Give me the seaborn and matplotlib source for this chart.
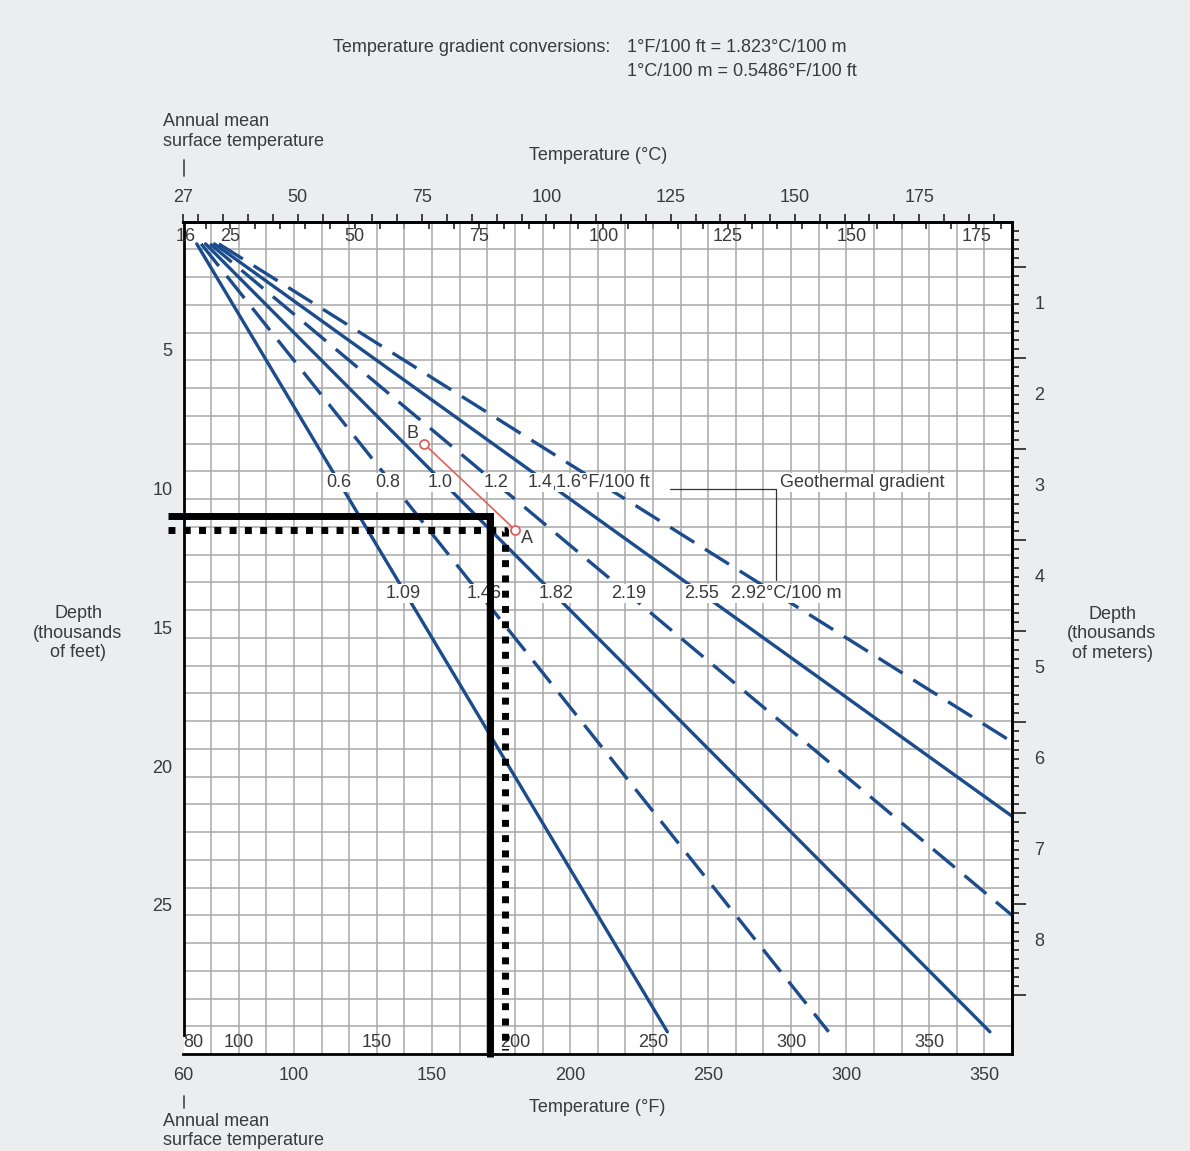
import numpy as np
import pandas as pd
import matplotlib
matplotlib.use("Agg")
import matplotlib.pyplot as plt
import seaborn as sns
from matplotlib.lines import Line2D
from matplotlib.ticker import FixedLocator, FuncFormatter, NullFormatter

# ---- geothermal gradient lines -------------------------------------------
gradients_f = [0.6, 0.8, 1.0, 1.2, 1.4, 1.6]            # degF per 100 ft
labels_f = ["0.6", "0.8", "1.0", "1.2", "1.4", "1.6°F/100 ft"]
labels_c = ["1.09", "1.46", "1.82", "2.19", "2.55", "2.92°C/100 m"]
line_styles = ["solid", "dashed", "solid", "dashed", "solid", "dashed"]
surface_temp_f = 60          # annual mean surface temperature, degF
depth_start = 0.8            # thousands of feet
depth_end = 29.2
temp_max_f = 360

# ---- worked example ---------------------------------------------------------
point_names = ["B", "A"]
point_temp_f = [147, 180]
point_depth = [8.0, 11.1]

# reading lines (thousands of feet, degF)
solid_read = (10.6, 171.0)
dotted_read = (11.1, 176.4)

# ---- scales -----------------------------------------------------------------
depth_ft_ticks = [5, 10, 15, 20, 25]
depth_m_ticks = [1, 2, 3, 4, 5, 6, 7, 8]
temp_f_outer = [60, 100, 150, 200, 250, 300, 350]
temp_f_inner = [80, 100, 150, 200, 250, 300, 350]       # 80 degF surface
temp_c_outer = [27, 50, 75, 100, 125, 150, 175]         # 27 degC surface
temp_c_inner = [16, 25, 50, 75, 100, 125, 150, 175]

W, H = 1190, 1151
BLUE = "#1d4c8c"
TXT = "#3a3a3a"
GRID = "#a8a8a8"

sns.set_theme(style="white")
plt.rcParams["font.family"] = ["Liberation Sans", "DejaVu Sans"]
plt.rcParams["text.color"] = TXT
FS = 13

fig = plt.figure(figsize=(W / 100, H / 100), dpi=100, facecolor="#ebedef")


def fx(px):
    return px / W


def fy(py):
    return 1 - py / H


ax = fig.add_axes([fx(183.5), fy(1054), (1012 - 183.5) / W, (1054 - 221.7) / H])
ax.set_facecolor("white")
ax.set_xlim(60, 360)
ax.set_ylim(30, 0)

# grid
ax.vlines(np.arange(70, 360, 10), 0, 30, color=GRID, lw=1.1, zorder=0.5)
ax.hlines(np.arange(1, 30, 1), 60, 360, color=GRID, lw=1.1, zorder=0.5)

# gradient lines
rows = []
for g, lab, st in zip(gradients_f, labels_f, line_styles):
    d_end = min(depth_end, (temp_max_f - surface_temp_f) / (10 * g))
    for d in (depth_start, d_end):
        rows.append({"gradient": lab, "style": st, "depth": d,
                     "temp": surface_temp_f + 10 * g * d})
df = pd.DataFrame(rows)
sns.lineplot(data=df, x="temp", y="depth", hue="gradient", style="style",
             palette=[BLUE] * len(gradients_f),
             dashes={"solid": "", "dashed": (8.5, 3.8)},
             lw=2.4, estimator=None, sort=False, legend=False, ax=ax, zorder=2)
ax.set_xlabel("")
ax.set_ylabel("")

# gradient labels in two rows, nudged sideways to sit clear of each other
row_f, row_c = 9.4, 13.4
shift_f = [0.0, -1.4, -0.9, 0.4, -2.4, 1.6]
shift_c = [-0.7, 1.5, 0.9, 0.5, 0.0, 3.7]
box = dict(facecolor="white", edgecolor="none", pad=1.0)
for g, lf, lc, sf, sc in zip(gradients_f, labels_f, labels_c, shift_f, shift_c):
    ax.text(surface_temp_f + 10 * g * row_f + sf, row_f, lf, ha="center", va="center",
            fontsize=FS, color=TXT, bbox=box, zorder=3)
    ax.text(surface_temp_f + 10 * g * row_c + sc, row_c, lc, ha="center", va="center",
            fontsize=FS, color=TXT, bbox=box, zorder=3)

# "Geothermal gradient" callout
x_top = surface_temp_f + 10 * gradients_f[-1] * row_c
ax.plot([236, x_top, x_top], [9.65, 9.65, 12.9], color="#333333", lw=0.9, zorder=3)
ax.text(x_top + 1.6, row_f, "Geothermal gradient", ha="left", va="center",
        fontsize=FS, color=TXT, bbox=box, zorder=3)

# worked example B -> A
ax.plot(point_temp_f, point_depth, color="#e0605a", lw=1.2, marker="o", ms=6.5,
        mfc="white", mec="#e0605a", mew=1.3, zorder=4)
ax.text(point_temp_f[0] - 3.9, point_depth[0] - 0.37, point_names[0], ha="center",
        va="center", fontsize=FS, color=TXT, zorder=4)
ax.text(point_temp_f[1] + 4.3, point_depth[1] + 0.32, point_names[1], ha="center",
        va="center", fontsize=FS, color=TXT, zorder=4)

# heavy reading lines
x_left = 54.4
ax.plot([x_left, solid_read[1], solid_read[1]], [solid_read[0], solid_read[0], 30.1],
        color="black", lw=5, solid_joinstyle="miter", solid_capstyle="butt",
        clip_on=False, zorder=6)
ax.plot([x_left, dotted_read[1], dotted_read[1]], [dotted_read[0], dotted_read[0], 29.85],
        color="black", lw=5, dashes=(1.0, 1.2), dash_capstyle="butt",
        clip_on=False, zorder=6)

# spines
for s in ax.spines.values():
    s.set_color("black")
    s.set_linewidth(2)
ax.spines["left"].set_bounds(0, 29.3)

# bottom outer degF scale
ax.set_xticks(temp_f_outer)
ax.set_xticklabels([str(v) for v in temp_f_outer])
ax.tick_params(axis="x", bottom=True, top=False, length=0, pad=9,
               labelsize=FS, labelcolor=TXT)

# bottom inner degF scale (80 degF surface)
for t in temp_f_inner:
    ax.text(t - 20, 29.57, str(t), ha="left" if t == temp_f_inner[0] else "center",
            va="center", fontsize=FS, color=TXT, zorder=3)

# left depth scale (feet)
ax.set_yticks(depth_ft_ticks)
ax.set_yticklabels([str(v) for v in depth_ft_ticks])
ax.tick_params(axis="y", left=True, right=False, length=0, pad=8,
               labelsize=FS, labelcolor=TXT)

# top outer degC scale (27 degC surface)
top_out = ax.secondary_xaxis("top", functions=(lambda f: 27 + (f - 60) / 1.8,
                                               lambda c: 60 + (c - 27) * 1.8))
top_out.set_xticks(temp_c_outer)
top_out.set_xticklabels([str(v) for v in temp_c_outer])
top_out.xaxis.set_minor_locator(FixedLocator(np.arange(30, 195, 5)))
top_out.tick_params(which="both", direction="out", length=6, width=1.2,
                    color="#222222", pad=5, labelsize=FS, labelcolor=TXT)
top_out.spines["top"].set_linewidth(2)

# top inner degC scale (true conversion)
top_in = ax.secondary_xaxis("top", functions=(lambda f: (f - 32) / 1.8,
                                              lambda c: c * 1.8 + 32))
top_in.xaxis.set_major_locator(FixedLocator(np.arange(20, 185, 5)))
top_in.xaxis.set_major_formatter(NullFormatter())
top_in.tick_params(direction="in", length=5, width=1.2, color="#222222")
top_in.spines["top"].set_linewidth(2)
for c in temp_c_inner:
    ax.text(c * 1.8 + 32, 0.52, str(c), ha="center", va="center",
            fontsize=FS, color=TXT, zorder=3)

# right depth scale (meters)
right = ax.secondary_yaxis("right", functions=(lambda d: d * 0.3048,
                                               lambda m: m / 0.3048))
right.yaxis.set_major_locator(FixedLocator(np.arange(0.5, 9.0, 1.0)))
right.yaxis.set_major_formatter(NullFormatter())
right.yaxis.set_minor_locator(FixedLocator(np.round(np.arange(0.1, 8.55, 0.1), 1)))
right.yaxis.set_minor_formatter(FuncFormatter(
    lambda v, p: str(int(round(v))) if abs(v - round(v)) < 1e-6 and int(round(v)) in depth_m_ticks else ""))
right.tick_params(which="major", direction="out", length=10, width=1.2, color="#222222")
right.tick_params(which="minor", direction="out", length=5, width=1.2, color="#222222",
                  pad=11, labelsize=FS, labelcolor=TXT)
right.spines["right"].set_linewidth(2)

fig.canvas.draw()
for lab in right.yaxis.get_minorticklabels():
    lab.set_va("bottom")
for lab in ax.get_yticklabels():
    lab.set_va("bottom")

# titles and side labels
fig.text(fx(333), fy(47), "Temperature gradient conversions:", ha="left", va="center", fontsize=FS)
fig.text(fx(627), fy(47), "1°F/100 ft = 1.823°C/100 m", ha="left", va="center", fontsize=FS)
fig.text(fx(627), fy(71), "1°C/100 m = 0.5486°F/100 ft", ha="left", va="center", fontsize=FS)
fig.text(fx(598), fy(155), "Temperature (°C)", ha="center", va="center", fontsize=FS)
fig.text(fx(597), fy(1108), "Temperature (°F)", ha="center", va="center", fontsize=FS)
fig.text(fx(163), fy(131.5), "Annual mean\nsurface temperature", ha="left", va="center",
         fontsize=FS, linespacing=1.2)
fig.text(fx(163), fy(1131), "Annual mean\nsurface temperature", ha="left", va="center",
         fontsize=FS, linespacing=1.2)
fig.text(fx(78), fy(633), "Depth\n(thousands\nof feet)", ha="center", va="center",
         fontsize=FS, linespacing=1.2)
fig.text(fx(1112), fy(634), "Depth\n(thousands\nof meters)", ha="center", va="center",
         fontsize=FS, linespacing=1.2)
fig.add_artist(Line2D([fx(183.5), fx(183.5)], [fy(160), fy(176)], color="#444444", lw=1.2))
fig.add_artist(Line2D([fx(183.5), fx(183.5)], [fy(1096), fy(1108)], color="#444444", lw=1.2))

fig.savefig("out.png", dpi=100, facecolor=fig.get_facecolor())
